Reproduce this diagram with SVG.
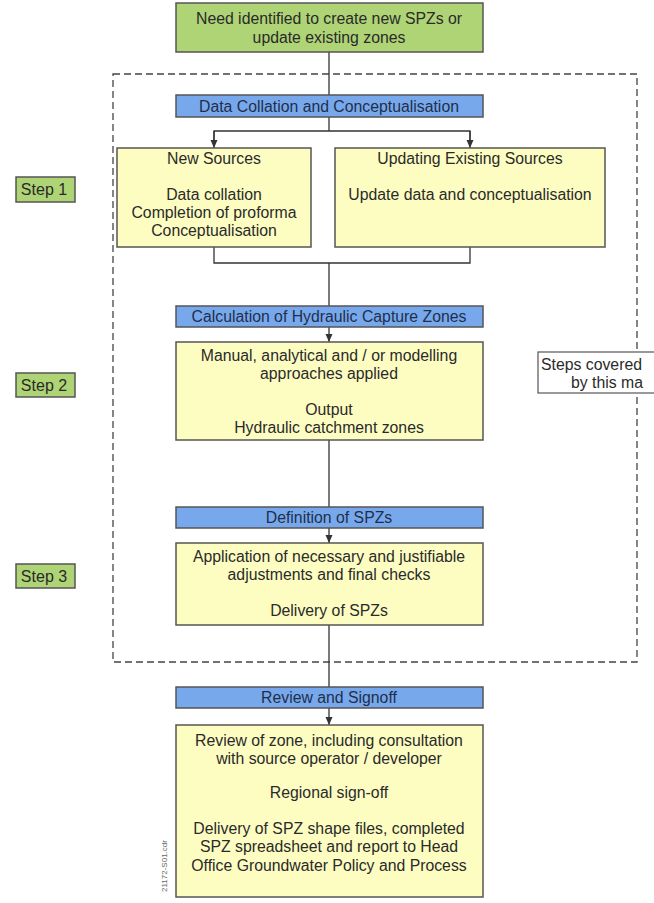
<svg xmlns="http://www.w3.org/2000/svg" width="654" height="903" viewBox="0 0 654 903">
<defs>
<marker id="arr" markerWidth="8" markerHeight="8" refX="8" refY="4" orient="auto" markerUnits="userSpaceOnUse" viewBox="0 0 8 8">
<path d="M0,0.5 L8,4 L0,7.5 Z" fill="#333"/>
</marker>
<style>
text{font-family:"Liberation Sans",Arial,sans-serif;font-size:15.8px;fill:#2a2a2a;text-anchor:middle}
.green{fill:#aed475;stroke:#555;stroke-width:1.5}
.blue{fill:#78a8ec;stroke:#555;stroke-width:1.5}
.yellow{fill:#fdfdc2;stroke:#555;stroke-width:1.5}
.line{stroke:#333;stroke-width:1.3;fill:none}
.dash{stroke:#444;stroke-width:1.3;fill:none;stroke-dasharray:7,4}
.blabel{fill:#1f2f4a}
.step{font-size:16px}
</style>
</defs>
<rect width="654" height="903" fill="#ffffff"/>
<rect class="dash" x="113" y="74" width="524" height="588"/>
<g id="connectors">
<line class="line" x1="329" y1="52" x2="329" y2="95"/>
<line class="line" x1="329" y1="117" x2="329" y2="131"/>
<polyline class="line" points="214,140 214,131 470,131 470,140"/>
<line class="line" x1="214" y1="131" x2="214" y2="148" marker-end="url(#arr)"/>
<line class="line" x1="470" y1="131" x2="470" y2="148" marker-end="url(#arr)"/>
<polyline class="line" points="214,247 214,263 470,263 470,247"/>
<line class="line" x1="329" y1="263" x2="329" y2="306"/>
<line class="line" x1="329" y1="327" x2="329" y2="342" marker-end="url(#arr)"/>
<line class="line" x1="329" y1="440" x2="329" y2="507"/>
<line class="line" x1="329" y1="528" x2="329" y2="543" marker-end="url(#arr)"/>
<line class="line" x1="329" y1="625" x2="329" y2="687"/>
<line class="line" x1="329" y1="708" x2="329" y2="725" marker-end="url(#arr)"/>
</g>
<g id="need">
<rect class="green" x="176" y="3" width="307" height="49"/>
<text x="329" y="24">Need identified to create new SPZs or</text>
<text x="329" y="43">update existing zones</text>
</g>
<g id="bar1">
<rect class="blue" x="176" y="95" width="307" height="22"/>
<text class="blabel" x="329" y="111.5">Data Collation and Conceptualisation</text>
</g>
<g id="newsources">
<rect class="yellow" x="117" y="148" width="194" height="99"/>
<text x="214" y="163.5">New Sources</text>
<text x="214" y="199.5">Data collation</text>
<text x="214" y="217.5">Completion of proforma</text>
<text x="214" y="235.5">Conceptualisation</text>
</g>
<g id="updating">
<rect class="yellow" x="335" y="148" width="270" height="99"/>
<text x="470" y="163.5">Updating Existing Sources</text>
<text x="470" y="199.5">Update data and conceptualisation</text>
</g>
<g id="step1">
<rect class="green" x="16" y="177" width="59" height="25"/>
<text class="step" x="44" y="195">Step 1</text>
</g>
<g id="bar2">
<rect class="blue" x="176" y="306" width="307" height="21"/>
<text class="blabel" x="329" y="322">Calculation of Hydraulic Capture Zones</text>
</g>
<g id="calc">
<rect class="yellow" x="176" y="342" width="307" height="98"/>
<text x="329" y="361">Manual, analytical and / or modelling</text>
<text x="329" y="379">approaches applied</text>
<text x="329" y="415">Output</text>
<text x="329" y="433">Hydraulic catchment zones</text>
</g>
<g id="step2">
<rect class="green" x="16" y="373" width="59" height="24"/>
<text class="step" x="44" y="391">Step 2</text>
</g>
<g id="stepscovered">
<rect x="538" y="352" width="130" height="41" fill="#ffffff" stroke="#555" stroke-width="1.2"/>
<text x="541" y="369.5" style="text-anchor:start">Steps covered</text>
<text x="571" y="387.5" style="text-anchor:start">by this ma</text>
</g>
<g id="bar3">
<rect class="blue" x="176" y="507" width="307" height="21"/>
<text class="blabel" x="329" y="523">Definition of SPZs</text>
</g>
<g id="define">
<rect class="yellow" x="176" y="543" width="307" height="82"/>
<text x="329" y="562">Application of necessary and justifiable</text>
<text x="329" y="580">adjustments and final checks</text>
<text x="329" y="616">Delivery of SPZs</text>
</g>
<g id="step3">
<rect class="green" x="16" y="564" width="59" height="24"/>
<text class="step" x="44" y="582">Step 3</text>
</g>
<g id="bar4">
<rect class="blue" x="176" y="687" width="307" height="21"/>
<text class="blabel" x="329" y="703">Review and Signoff</text>
</g>
<g id="review">
<rect class="yellow" x="176" y="725" width="307" height="172"/>
<text x="329" y="746">Review of zone, including consultation</text>
<text x="329" y="764">with source operator / developer</text>
<text x="329" y="798">Regional sign-off</text>
<text x="329" y="834">Delivery of SPZ shape files, completed</text>
<text x="329" y="852">SPZ spreadsheet and report to Head</text>
<text x="329" y="871">Office Groundwater Policy and Process</text>
</g>
<text x="167" y="866" transform="rotate(-90 167 866)" style="font-size:8px;fill:#666">21172-S01.cdr</text>
</svg>
